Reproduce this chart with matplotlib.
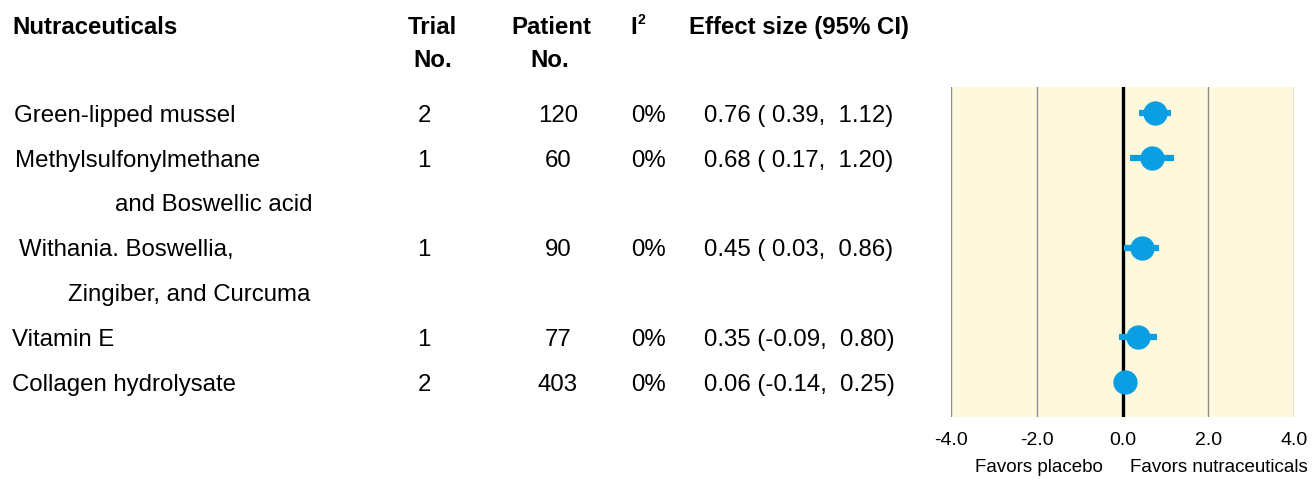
import matplotlib
matplotlib.use("Agg")
import matplotlib.pyplot as plt
import matplotlib.transforms as mtrans

plt.rcParams['font.family'] = ['Liberation Sans', 'DejaVu Sans']

# ---- data ----
names = ["Green-lipped mussel", "Methylsulfonylmethane", "Withania. Boswellia,",
         "Vitamin E", "Collagen hydrolysate"]
names_line2 = ["", "and Boswellic acid", "Zingiber, and Curcuma", "", ""]
trials = [2, 1, 1, 1, 2]
patients = [120, 60, 90, 77, 403]
i2 = ["0%", "0%", "0%", "0%", "0%"]
effect = [0.76, 0.68, 0.45, 0.35, 0.06]
ci_low = [0.39, 0.17, 0.03, -0.09, -0.14]
ci_high = [1.12, 1.20, 0.86, 0.80, 0.25]
row_pos = [0, 1, 3, 5, 6]
xticks = [-4.0, -2.0, 0.0, 2.0, 4.0]

W, H = 1312, 479
fig = plt.figure(figsize=(W / 100, H / 100), dpi=100)
fig.patch.set_facecolor('white')

ax = fig.add_axes([951 / W, (H - 417) / H, 343 / W, 330 / H])
ax.set_facecolor('#fef9dc')
ax.set_xlim(-4, 4)
ax.set_ylim(6.78, -0.58)
for s in ax.spines.values():
    s.set_visible(False)
ax.set_yticks([])
ax.set_xticks(xticks)
ax.set_xticklabels([f"{t:.1f}" for t in xticks], fontsize=14)
ax.tick_params(axis='x', length=0, pad=11)
ax.xaxis.grid(True, color='#8c8c8c', linewidth=1.0)
ax.set_axisbelow(True)
ax.axvline(0, color='black', linewidth=2.4, zorder=2)

blue = '#0a9ee2'
ax.hlines(row_pos, ci_low, ci_high, color=blue, linewidth=4.5, zorder=3)
ax.plot(effect, row_pos, 'o', color=blue, markersize=16.5, zorder=4)

ax.text(0.255, -0.152, "Favors placebo", transform=ax.transAxes, ha='center', va='center', fontsize=13.5)
ax.text(0.78, -0.152, "Favors nutraceuticals", transform=ax.transAxes, ha='center', va='center', fontsize=13.5)

tr = mtrans.blended_transform_factory(fig.transFigure, ax.transData)
fs = 17.3
dy = 0.06
def ft(xpix, y, s, **kw):
    kw.setdefault('fontsize', fs)
    kw.setdefault('va', 'center')
    ax.text(xpix / W, y + dy, s, transform=tr, clip_on=False, **kw)

# headers
hy1, hy2 = -1.96, -1.22
ft(12, hy1, "Nutraceuticals", ha='left', fontweight='bold')
ft(432, hy1, "Trial", ha='center', fontweight='bold')
ft(433, hy2, "No.", ha='center', fontweight='bold')
ft(551, hy1, "Patient", ha='center', fontweight='bold')
ft(550, hy2, "No.", ha='center', fontweight='bold')
ft(630, hy1, "I", ha='left', fontweight='bold')
ft(638, hy1 - 0.17, "2", ha='left', fontweight='bold', fontsize=10)
ft(799, hy1, "Effect size (95% CI)", ha='center', fontweight='bold')

name_x = [14, 15, 19, 12, 12]
name2_x = [0, 115, 68, 0, 0]
for i, y in enumerate(row_pos):
    ft(name_x[i], y, names[i], ha='left')
    if names_line2[i]:
        ft(name2_x[i], y + 1, names_line2[i], ha='left')
    ft(424, y, str(trials[i]), ha='center')
    ft(558, y, str(patients[i]), ha='center')
    ft(648, y, i2[i], ha='center')
    lo = f"{ci_low[i]:5.2f}"
    ft(799, y, f"{effect[i]:.2f} ({lo},  {ci_high[i]:.2f})", ha='center')

fig.savefig("out.png", dpi=100)
